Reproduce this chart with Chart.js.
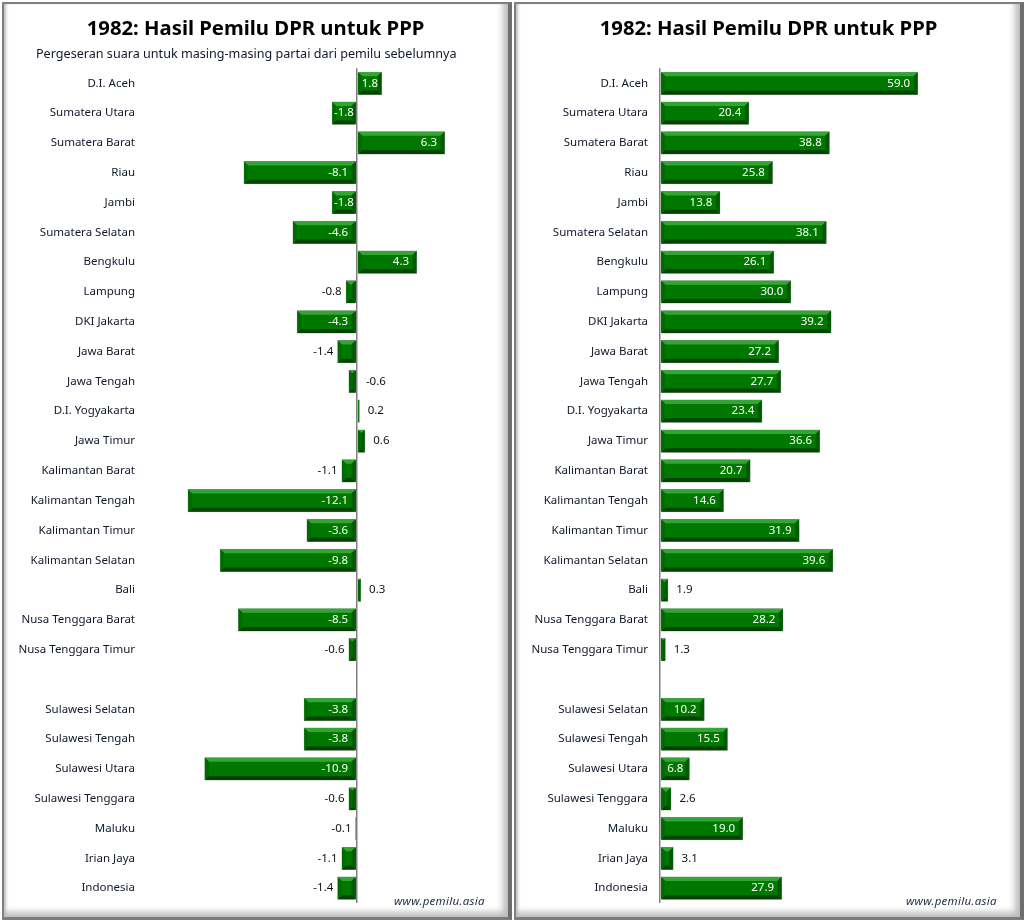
<!DOCTYPE html>
<html>
<head>
<meta charset="utf-8">
<title>1982: Hasil Pemilu DPR untuk PPP</title>
<script src="https://cdn.jsdelivr.net/npm/chart.js@4"></script>
<style>
    html, body { margin: 0; padding: 0; background: #fff; }
    body { width: 1026px; height: 922px; position: relative; overflow: hidden; }
    .panel {
        position: absolute; top: 2px; height: 918px; background: #fff;
        border-top: 2px solid #808080; border-left: 2px solid #808080;
        border-right: 4px solid #6e6e6e; border-bottom: 3px solid #7c7c7c;
        box-sizing: border-box;
        box-shadow: inset 3px 0 3px -1px #bdbdbd, inset -7px -7px 6px -2px #bcbcbc;
    }
    canvas { position: absolute; top: 3px; }
    .sumber {
        position: absolute; top: 893px; font: italic 11.5px "Noto Sans", sans-serif;
        color: #1f2a44; letter-spacing: 0.3px;
    }
    .subjudul {
        position: absolute; top: 45px; left: 36px; font: 12.6px "Noto Sans", sans-serif;
        color: #10182a; white-space: nowrap;
    }
</style>
</head>
<body>
<div class="panel" style="left:2px;width:510px"></div>
<div class="panel" style="left:514px;width:510px"></div>
<canvas id="grafikGeser" width="505" height="919" style="left:3px"></canvas>
<canvas id="grafikHasil" width="505" height="919" style="left:516px"></canvas>
<div class="subjudul">Pergeseran suara untuk masing-masing partai dari pemilu sebelumnya</div>
<div class="sumber" style="left:394px">www.pemilu.asia</div>
<div class="sumber" style="left:906px">www.pemilu.asia</div>
<script>
const provinsi = [
    'D.I. Aceh', 'Sumatera Utara', 'Sumatera Barat', 'Riau', 'Jambi', 'Sumatera Selatan', 'Bengkulu',
    'Lampung', 'DKI Jakarta', 'Jawa Barat', 'Jawa Tengah', 'D.I. Yogyakarta', 'Jawa Timur',
    'Kalimantan Barat', 'Kalimantan Tengah', 'Kalimantan Timur', 'Kalimantan Selatan', 'Bali',
    'Nusa Tenggara Barat', 'Nusa Tenggara Timur', '', 'Sulawesi Selatan', 'Sulawesi Tengah',
    'Sulawesi Utara', 'Sulawesi Tenggara', 'Maluku', 'Irian Jaya', 'Indonesia'
];
const pergeseran = [
    1.8, -1.8, 6.3, -8.1, -1.8, -4.6, 4.3, -0.8, -4.3, -1.4, -0.6, 0.2, 0.6, -1.1,
    -12.1, -3.6, -9.8, 0.3, -8.5, -0.6, null, -3.8, -3.8, -10.9, -0.6, -0.1, -1.1, -1.4
];
const hasil = [
    59.0, 20.4, 38.8, 25.8, 13.8, 38.1, 26.1, 30.0, 39.2, 27.2, 27.7, 23.4, 36.6, 20.7,
    14.6, 31.9, 39.6, 1.9, 28.2, 1.3, null, 10.2, 15.5, 6.8, 2.6, 19.0, 3.1, 27.9
];
const judul = '1982: Hasil Pemilu DPR untuk PPP';
const fontDasar = '"Noto Sans", sans-serif';

// bevel on each bar, drawn over what the library has already drawn
function gambarBevel(ctx, kiri, kanan, atas, bawah) {
    const w = kanan - kiri;
    const b = Math.min(4, w / 2);
    const bagian = [
        ['#33a533', [[kiri, atas], [kanan, atas], [kanan - b, atas + b], [kiri + b, atas + b]]],
        ['#004400', [[kiri, bawah], [kanan, bawah], [kanan - b, bawah - b], [kiri + b, bawah - b]]],
        ['#006c00', [[kiri, atas], [kiri + b, atas + b], [kiri + b, bawah - b], [kiri, bawah]]],
        ['#005a00', [[kanan, atas], [kanan - b, atas + b], [kanan - b, bawah - b], [kanan, bawah]]]
    ];
    bagian.forEach(([warna, titik]) => {
        ctx.fillStyle = warna;
        ctx.beginPath();
        titik.forEach(([x, y], i) => i ? ctx.lineTo(x, y) : ctx.moveTo(x, y));
        ctx.closePath();
        ctx.fill();
    });
}

const pluginBatang = {
    id: 'pluginBatang',
    afterDatasetsDraw(chart, args, opsi) {
        const ctx = chart.ctx;
        const nilai = chart.data.datasets[0].data;
        const nol = chart.scales.x.getPixelForValue(0);
        ctx.save();
        ctx.font = '11.5px ' + fontDasar;
        ctx.textBaseline = 'middle';
        chart.getDatasetMeta(0).data.forEach((el, i) => {
            const v = nilai[i];
            if (v === null) return;
            const kiri = Math.min(el.x, el.base), kanan = Math.max(el.x, el.base);
            const atas = el.y - el.height / 2, bawah = el.y + el.height / 2;
            gambarBevel(ctx, kiri + 0.5, kanan - 0.5, atas + 0.5, bawah - 0.5);

            const teks = v.toFixed(1);
            const lebar = kanan - kiri;
            if (Math.abs(v) < opsi.batasLuar) {
                ctx.fillStyle = '#111';
                if (v >= 0) {
                    ctx.textAlign = 'left';
                    ctx.fillText(teks, kanan + 8, el.y);
                } else if (provinsi[i] === 'Jawa Tengah') {
                    // this one sits on the other side of the axis in the reference
                    ctx.textAlign = 'left';
                    ctx.fillText(teks, nol + 9, el.y);
                } else {
                    ctx.textAlign = 'right';
                    ctx.fillText(teks, kiri - 4, el.y);
                }
            } else {
                ctx.fillStyle = '#fff';
                if (lebar < 30) {
                    ctx.textAlign = 'center';
                    ctx.fillText(teks, (kiri + kanan) / 2, el.y);
                } else {
                    ctx.textAlign = 'right';
                    ctx.fillText(teks, kanan - 8, el.y);
                }
            }
        });
        ctx.restore();
    }
};

function buatGrafik(id, nilai, minX, maxX, batasLuar) {
    new Chart(document.getElementById(id), {
        type: 'bar',
        plugins: [pluginBatang],
        data: {
            labels: provinsi,
            datasets: [{
                data: nilai,
                backgroundColor: '#007800',
                borderColor: '#7d8a7d',
                borderWidth: 1,
                categoryPercentage: 1,
                barPercentage: 0.78
            }]
        },
        options: {
            indexAxis: 'y',
            responsive: false,
            animation: false,
            layout: { padding: { left: 0, right: 0, top: 0, bottom: 5 } },
            plugins: {
                legend: { display: false },
                tooltip: { enabled: false },
                title: {
                    display: true,
                    text: judul,
                    color: '#000',
                    font: { family: fontDasar, size: 20.3, weight: 'bold' },
                    padding: { top: 14, bottom: 27 }
                },
                pluginBatang: { batasLuar: batasLuar }
            },
            scales: {
                x: {
                    min: minX,
                    max: maxX,
                    ticks: { display: false, stepSize: 5 },
                    border: { display: false },
                    grid: {
                        drawTicks: false,
                        lineWidth: 1.5,
                        color: c => c.tick && c.tick.value === 0 ? '#808080' : 'rgba(0,0,0,0)'
                    }
                },
                y: {
                    afterFit: s => { s.width = 144; },
                    border: { display: false },
                    grid: { display: false, drawTicks: false },
                    ticks: {
                        autoSkip: false,
                        padding: 12,
                        color: '#10182a',
                        font: { family: fontDasar, size: 11.5 }
                    }
                }
            }
        }
    });
}

buatGrafik('grafikGeser', pergeseran, -15, 10.8, 1.5);
buatGrafik('grafikHasil', hasil, 0, 82.5, 5);
</script>
</body>
</html>
